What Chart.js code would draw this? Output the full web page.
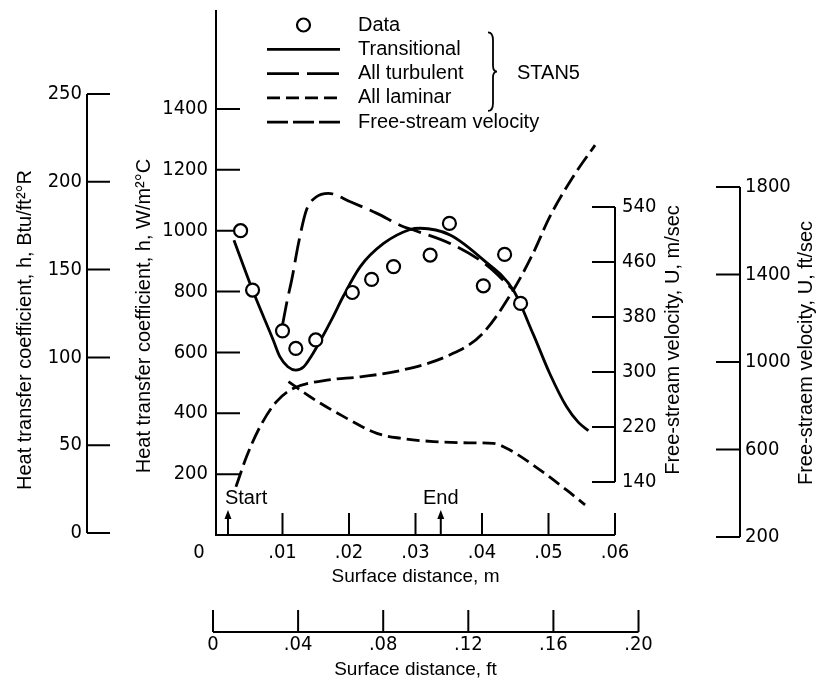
<!DOCTYPE html>
<html>
<head>
<meta charset="utf-8">
<script src="https://cdn.jsdelivr.net/npm/chart.js@4.4.1/dist/chart.umd.min.js"></script>
<style>
  html, body { margin: 0; padding: 0; background: #fff; }
  canvas { display: block; }
</style>
</head>
<body>
<canvas id="chart" width="818" height="686"></canvas>
<script>
// ---------------- data ----------------
// Measured data points: surface distance (m), heat transfer coefficient h (W/m^2 C)
const dataX = [0.0037, 0.0055, 0.0100, 0.0120, 0.0150, 0.0205, 0.0234, 0.0267, 0.0322, 0.0351, 0.0402, 0.0434, 0.0458];
const dataH = [1000, 805, 671, 613, 641, 797, 840, 882, 920, 1024, 819, 922, 761];

// STAN5 - transitional
const transX = [0.0027, 0.0055, 0.0086, 0.0096, 0.0108, 0.0120, 0.0132, 0.0144, 0.0156, 0.0176, 0.0191, 0.0217, 0.0252, 0.0292, 0.0307, 0.0352, 0.0402, 0.0447, 0.0477, 0.0502, 0.0527, 0.0545, 0.0560];
const transH = [969, 805, 641, 586, 553, 542, 553, 590, 635, 717, 783, 882, 958, 1004, 1008, 986, 904, 805, 660, 530, 422, 370, 343];

// STAN5 - all turbulent
const turbX = [0.0100, 0.0107, 0.0114, 0.0124, 0.0136, 0.0150, 0.0169, 0.0202, 0.0242, 0.0282, 0.0300, 0.0352, 0.0407, 0.0447];
const turbH = [690, 770, 840, 958, 1068, 1110, 1123, 1095, 1057, 1013, 1000, 958, 887, 805];

// STAN5 - all laminar
const lamX = [0.0109, 0.0141, 0.0192, 0.0242, 0.0277, 0.0327, 0.0380, 0.0417, 0.0442, 0.0487, 0.0527, 0.0555];
const lamH = [504, 455, 389, 334, 318, 307, 303, 301, 279, 214, 148, 99];

// Free-stream velocity (m/sec)
const velX = [0.0030, 0.0046, 0.0066, 0.0091, 0.0116, 0.0167, 0.0217, 0.0277, 0.0352, 0.0400, 0.0447, 0.0477, 0.0502, 0.0537, 0.0570];
const velU = [133, 177, 220, 257, 276, 288, 293, 302, 325, 355, 419, 473, 526, 584, 630];

// Tick values of the axes
const xMTicks   = [0, 0.01, 0.02, 0.03, 0.04, 0.05, 0.06];
const xFtTicks  = [0, 0.04, 0.08, 0.12, 0.16, 0.20];
const hSITicks  = [200, 400, 600, 800, 1000, 1200, 1400];
const hBtuTicks = [0, 50, 100, 150, 200, 250];
const uMTicks   = [140, 220, 300, 380, 460, 540];
const uFtTicks  = [200, 600, 1000, 1400, 1800];

// Start / End of transition markers (surface distance, m)
const markerX    = [0.0018, 0.0338];
const markerText = ['Start', 'End'];

const legendNote = 'STAN5';

// ---------------- styling ----------------
const TEXT_FONT = "'Liberation Sans', Arial, sans-serif";
const TICK_FONT = "'Liberation Sans Narrow', 'Arial Narrow', 'DejaVu Sans Condensed', 'Liberation Sans', sans-serif";
Chart.defaults.color = '#000';

const zip = (xs, ys) => xs.map((x, i) => ({ x: x, y: ys[i] }));
const fixedTicks = values => scale => { scale.ticks = values.map(v => ({ value: v })); };
const fixSize = (w, h) => scale => {
  if (w != null) scale.width = w;
  if (h != null) scale.height = h;
  scale.paddingTop = scale.paddingBottom = scale.paddingLeft = scale.paddingRight = 0;
};
const tickFont = { family: TICK_FONT, size: 20 };
const noGrid = { display: false, drawTicks: false };

// axis lines and inward tick marks
const axisDeco = {
  y:    { edge: 'right', tick: 24, full: true },
  yBtu: { edge: 'right', tick: 23 },
  yU:   { edge: 'left',  tick: -23 },
  yUft: { edge: 'left',  tick: -24 },
  x:    { edge: 'top',   tick: -22, skipFirst: true },
  xft:  { edge: 'top',   tick: -22 }
};
// y-axis titles (all read bottom-to-top in the figure)
const yTitleLayout = {
  yBtu: { dx: 25, dy: 320 },
  y:    { dx: 57, dy: 306 },
  yU:   { dx: 58, dy: 330 },
  yUft: { dx: 66, dy: 343 }
};
const legendLayout = { left: 267, top: 25, row: 24.3, sample: 73, textLeft: 358 };

const axisPlugin = {
  id: 'axisDeco',
  beforeDatasetsDraw(chart) {
    const ctx = chart.ctx, ca = chart.chartArea;
    ctx.save();
    ctx.strokeStyle = '#000';
    ctx.lineWidth = 2;
    for (const [id, d] of Object.entries(axisDeco)) {
      const s = chart.scales[id];
      const px = s.ticks.map(t => s.getPixelForValue(t.value));
      const pos = s[d.edge];
      ctx.beginPath();
      if (d.edge === 'left' || d.edge === 'right') {
        const a = d.full ? ca.top : Math.min(...px);
        const b = d.full ? ca.bottom : Math.max(...px);
        ctx.moveTo(pos, a); ctx.lineTo(pos, b);
        px.forEach(p => { ctx.moveTo(pos, p); ctx.lineTo(pos + d.tick, p); });
      } else {
        const a = Math.min(...px) - (d.skipFirst ? 1 : 0);
        ctx.moveTo(a, pos); ctx.lineTo(Math.max(...px), pos);
        px.forEach((p, i) => {
          if (d.skipFirst && i === 0) return;
          ctx.moveTo(p, pos); ctx.lineTo(p, pos + d.tick);
        });
      }
      ctx.stroke();
    }
    // Start / End arrows
    const xs = chart.scales.x;
    ctx.fillStyle = '#000';
    ctx.font = '20px ' + TEXT_FONT;
    ctx.textBaseline = 'alphabetic';
    markerX.forEach((v, i) => {
      const x = xs.getPixelForValue(v);
      const bot = ca.bottom, top = ca.bottom - 25;
      ctx.beginPath();
      ctx.lineWidth = 2;
      ctx.moveTo(x, bot); ctx.lineTo(x, top + 6);
      ctx.stroke();
      ctx.beginPath();
      ctx.moveTo(x, top); ctx.lineTo(x - 3.5, top + 9); ctx.lineTo(x + 3.5, top + 9); ctx.closePath();
      ctx.fill();
      ctx.textAlign = i === 0 ? 'left' : 'center';
      ctx.fillText(markerText[i], i === 0 ? x - 3 : x, top - 6);
    });
    ctx.restore();
  },
  afterDraw(chart) {
    const ctx = chart.ctx, ca = chart.chartArea;
    // y-axis titles
    for (const [id, t] of Object.entries(yTitleLayout)) {
      const s = chart.scales[id];
      ctx.save();
      ctx.translate(s.left + t.dx, ca.top + t.dy);
      ctx.rotate(-Math.PI / 2);
      ctx.textAlign = 'center';
      ctx.textBaseline = 'middle';
      ctx.fillStyle = '#000';
      ctx.font = '20px ' + TEXT_FONT;
      ctx.fillText(s.options.title.text, 0, 0);
      ctx.restore();
    }
    // legend
    const L = legendLayout;
    ctx.save();
    ctx.strokeStyle = '#000';
    ctx.fillStyle = '#000';
    ctx.font = '20px ' + TEXT_FONT;
    ctx.textBaseline = 'middle';
    ctx.textAlign = 'left';
    chart.data.datasets.forEach((ds, i) => {
      const y = L.top + i * L.row;
      if (ds.showLine === false) {
        ctx.beginPath();
        ctx.lineWidth = ds.pointBorderWidth;
        ctx.arc(L.left + L.sample / 2, y, ds.pointRadius, 0, Math.PI * 2);
        ctx.fillStyle = '#fff'; ctx.fill(); ctx.stroke();
        ctx.fillStyle = '#000';
      } else {
        ctx.beginPath();
        ctx.lineWidth = ds.borderWidth;
        ctx.setLineDash(ds.legendDash || ds.borderDash || []);
        ctx.moveTo(L.left, y); ctx.lineTo(L.left + L.sample, y);
        ctx.stroke();
        ctx.setLineDash([]);
      }
      ctx.fillText(ds.label, L.textLeft, y);
    });
    // brace grouping the STAN5 curves
    const bx = 488, bt = L.top + L.row - 17, bb = L.top + 3 * L.row + 13, bm = (bt + bb) / 2;
    ctx.beginPath();
    ctx.lineWidth = 1.8;
    ctx.moveTo(bx, bt);
    ctx.quadraticCurveTo(bx + 5, bt, bx + 5, bt + 8);
    ctx.lineTo(bx + 5, bm - 6);
    ctx.quadraticCurveTo(bx + 5, bm, bx + 9, bm);
    ctx.quadraticCurveTo(bx + 5, bm, bx + 5, bm + 6);
    ctx.lineTo(bx + 5, bb - 8);
    ctx.quadraticCurveTo(bx + 5, bb, bx, bb);
    ctx.stroke();
    ctx.fillText(legendNote, 517, bm + 2);
    ctx.restore();
  }
};

new Chart(document.getElementById('chart'), {
  type: 'scatter',
  data: {
    datasets: [
      { label: 'Data', data: zip(dataX, dataH), showLine: false, pointRadius: 6.5, pointBorderWidth: 2.2,
        pointBackgroundColor: '#fff', pointBorderColor: '#000', xAxisID: 'x', yAxisID: 'y' },
      { label: 'Transitional', data: zip(transX, transH), showLine: true, borderColor: '#000', borderWidth: 2.8,
        pointRadius: 0, cubicInterpolationMode: 'monotone', xAxisID: 'x', yAxisID: 'y' },
      { label: 'All turbulent', data: zip(turbX, turbH), showLine: true, borderColor: '#000', borderWidth: 2.8,
        borderDash: [24, 8], legendDash: [32, 8], pointRadius: 0, cubicInterpolationMode: 'monotone', xAxisID: 'x', yAxisID: 'y' },
      { label: 'All laminar', data: zip(lamX, lamH), showLine: true, borderColor: '#000', borderWidth: 2.8,
        borderDash: [13, 6], pointRadius: 0, cubicInterpolationMode: 'monotone', xAxisID: 'x', yAxisID: 'y' },
      { label: 'Free-stream velocity', data: zip(velX, velU), showLine: true, borderColor: '#000', borderWidth: 2.8,
        borderDash: [17, 6], legendDash: [21, 5], pointRadius: 0, cubicInterpolationMode: 'monotone', xAxisID: 'x', yAxisID: 'yU' }
    ]
  },
  options: {
    responsive: false,
    animation: false,
    events: [],
    layout: { padding: { top: 10, left: 0, right: 0, bottom: 0 } },
    plugins: { legend: { display: false }, tooltip: { enabled: false }, title: { display: false } },
    scales: {
      x: {
        type: 'linear', axis: 'x', position: 'bottom', weight: 0, min: 0, max: 0.06,
        afterBuildTicks: fixedTicks(xMTicks), afterFit: fixSize(null, 97),
        grid: noGrid, border: { display: false },
        ticks: { autoSkip: false, maxRotation: 0, padding: 6, font: tickFont,
          callback: v => v === 0 ? '0      ' : v.toFixed(2).replace(/^0/, '') },
        title: { display: true, text: 'Surface distance, m', font: { family: TEXT_FONT, size: 19 }, padding: { top: 0, bottom: 44 } }
      },
      xft: {
        type: 'linear', axis: 'x', position: 'bottom', weight: 1, min: 0.00141, max: 0.18895,
        afterBuildTicks: fixedTicks(xFtTicks), afterFit: fixSize(null, 54),
        grid: noGrid, border: { display: false },
        ticks: { autoSkip: false, maxRotation: 0, padding: 1, font: tickFont,
          callback: v => v === 0 ? '0' : v.toFixed(2).replace(/^0/, '') },
        title: { display: true, text: 'Surface distance, ft', font: { family: TEXT_FONT, size: 19 }, padding: { top: 0, bottom: 5 } }
      },
      y: {
        type: 'linear', axis: 'y', position: 'left', weight: 0, min: 0, max: 1725.3,
        afterBuildTicks: fixedTicks(hSITicks), afterFit: fixSize(129, null),
        grid: noGrid, border: { display: false },
        ticks: { autoSkip: false, padding: 8, font: tickFont, callback: v => String(v) },
        title: { display: false, text: 'Heat transfer coefficient, h, W/m²°C' }
      },
      yBtu: {
        type: 'linear', axis: 'y', position: 'left', weight: 1, min: -1.14, max: 297.8,
        afterBuildTicks: fixedTicks(hBtuTicks), afterFit: fixSize(87, null),
        grid: noGrid, border: { display: false },
        ticks: { autoSkip: false, padding: 5, font: tickFont, callback: v => String(v) },
        title: { display: false, text: 'Heat transfer coefficient, h, Btu/ft²°R' }
      },
      yU: {
        type: 'linear', axis: 'y', position: 'right', weight: 0, min: 62.9, max: 826.5,
        afterBuildTicks: fixedTicks(uMTicks), afterFit: fixSize(125, null),
        grid: noGrid, border: { display: false },
        ticks: { autoSkip: false, padding: 7, font: tickFont, callback: v => String(v) },
        title: { display: false, text: 'Free-stream velocity, U, m/sec' }
      },
      yUft: {
        type: 'linear', axis: 'y', position: 'right', weight: 1, min: 209.1, max: 2609,
        afterBuildTicks: fixedTicks(uFtTicks), afterFit: fixSize(78, null),
        grid: noGrid, border: { display: false },
        ticks: { autoSkip: false, padding: 5, font: tickFont, callback: v => String(v) },
        title: { display: false, text: 'Free-straem velocity, U, ft/sec' }
      }
    }
  },
  plugins: [axisPlugin]
});
</script>
</body>
</html>
